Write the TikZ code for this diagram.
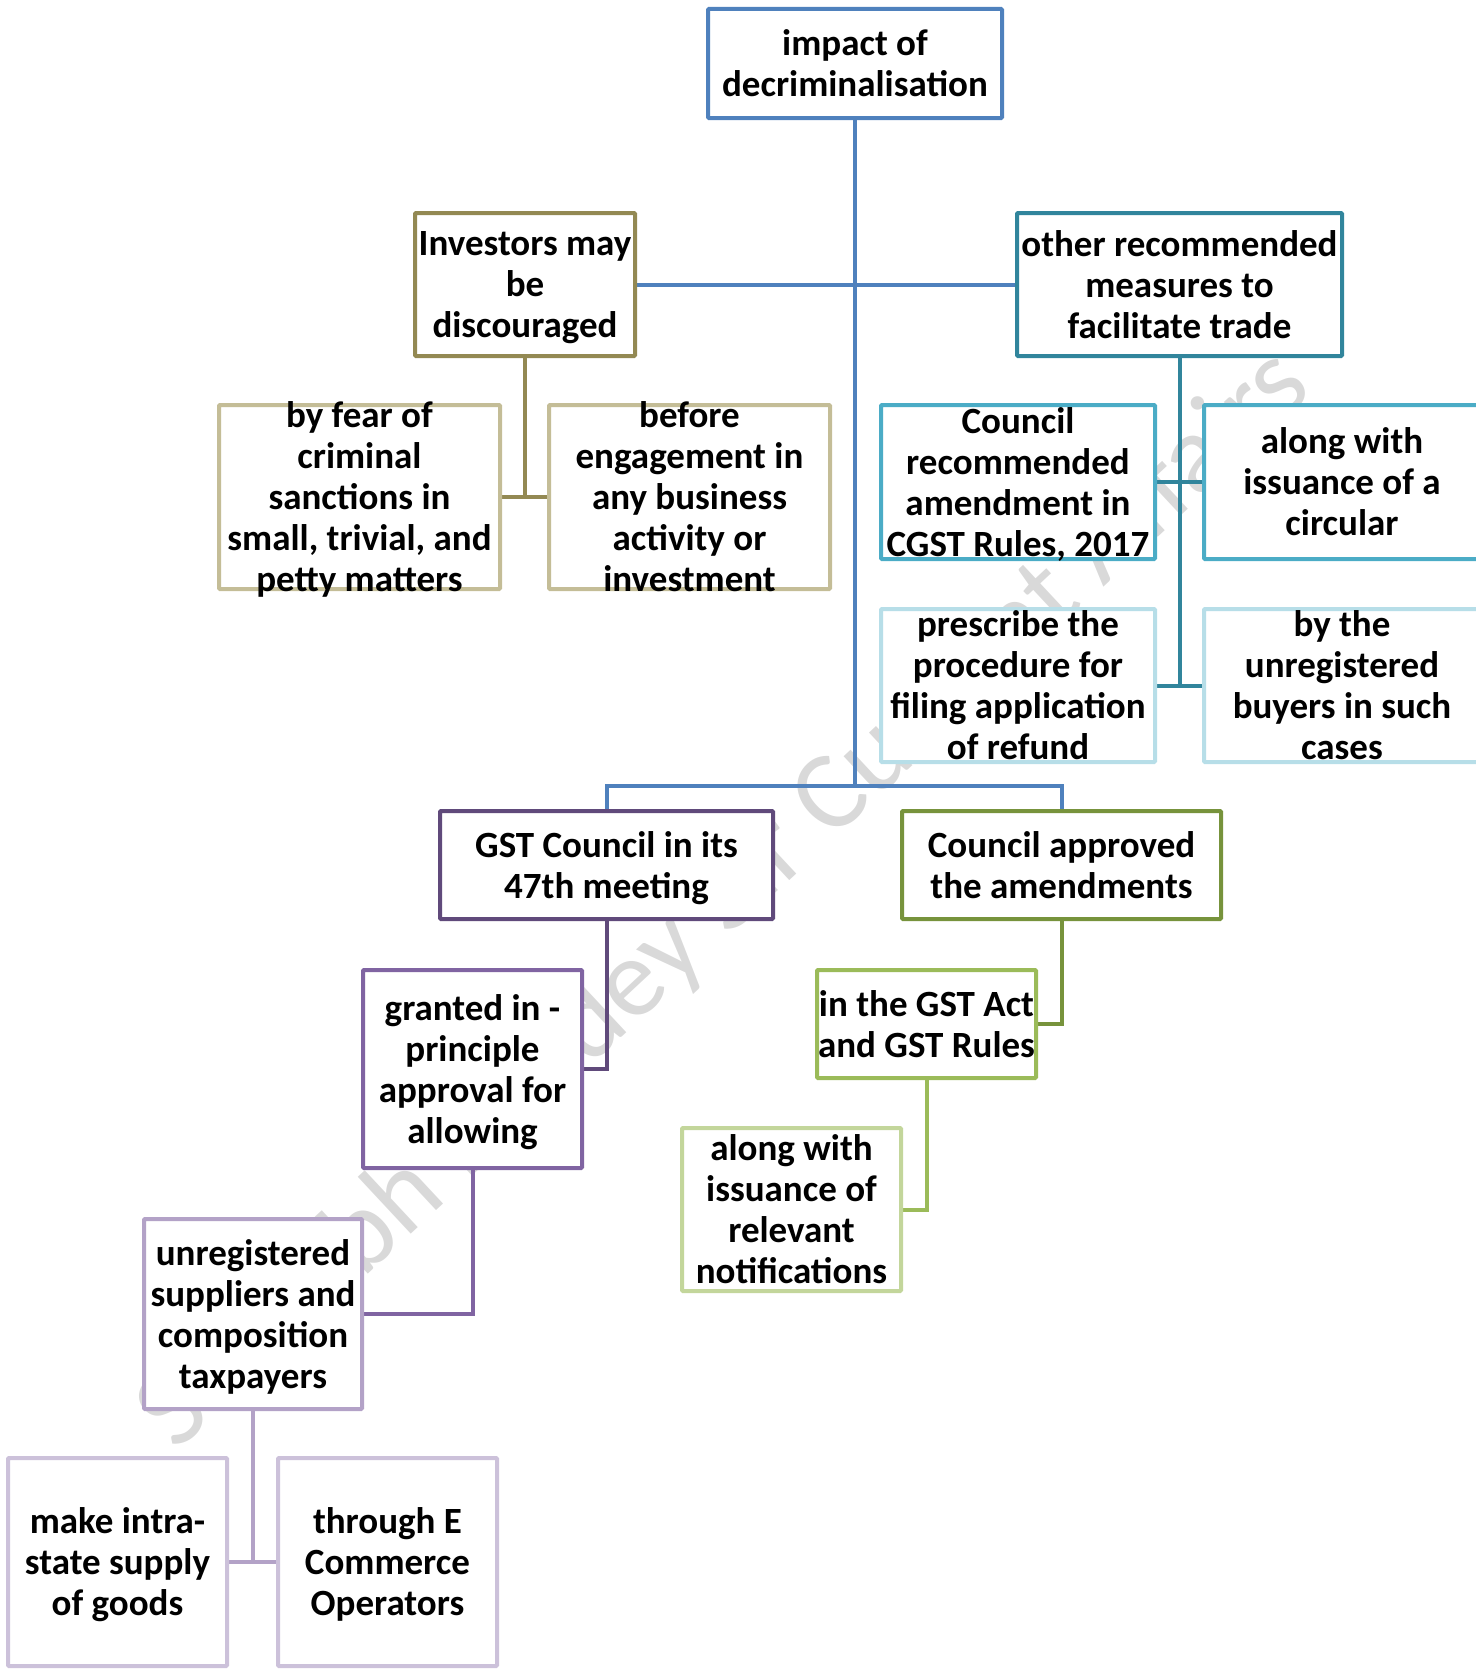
\documentclass[tikz,border=0pt]{standalone}
\usepackage{fontspec}
\setmainfont{Carlito}
\usetikzlibrary{backgrounds}
\definecolor{cblue}{HTML}{4F81BD}
\definecolor{colive}{HTML}{938953}
\definecolor{colivel}{HTML}{C4BD97}
\definecolor{cteal}{HTML}{31859C}
\definecolor{ctealm}{HTML}{4BACC6}
\definecolor{ctealll}{HTML}{B7DEE8}
\definecolor{cpurd}{HTML}{604A7B}
\definecolor{cpurm}{HTML}{8064A2}
\definecolor{cpurl}{HTML}{B3A2C7}
\definecolor{cpurll}{HTML}{CCC1DA}
\definecolor{cgrnd}{HTML}{77933C}
\definecolor{cgrnm}{HTML}{9BBB59}
\definecolor{cgrnl}{HTML}{C3D69B}
\tikzset{
  bx/.style={draw=#1, line width=4pt, fill=white, inner sep=0pt, rounded corners=1pt},
  tx/.style={align=center, inner sep=0pt, yshift=-6pt, font=\bfseries\fontsize{37}{41}\selectfont,
    execute at begin node=\strut, execute at end node=\strut},
  ln/.style={draw=#1, line width=4pt},
  wmark/.style={rotate=43, inner sep=0pt, text=black!15, font=\fontsize{112}{112}\selectfont}
}
\newcommand\boxnode[7]{%
  \node[bx=#6, minimum width=#4pt, minimum height=#5pt] (#1) at (#2,#3) {};
  \node[tx] (#1t) at (#1.center) {#7};
}
\begin{document}
\begin{tikzpicture}[x=1pt,y=-1pt]
\useasboundingbox (0,0) rectangle (1475,1670);
\boxnode{root}{855}{63.5}{294}{109}{cblue}{impact of\\decriminalisation}
\boxnode{inv}{525}{284.5}{220}{143}{colive}{Investors may\\be\\discouraged}
\boxnode{oth}{1179.5}{284.5}{325}{143}{cteal}{other recommended\\measures to\\facilitate trade}
\boxnode{fear}{359.5}{497}{281}{184}{colivel}{by fear of\\criminal\\sanctions in\\small, trivial, and\\petty matters}
\boxnode{before}{689.5}{497}{281}{184}{colivel}{before\\engagement in\\any business\\activity or\\investment}
\boxnode{crec}{1018}{482}{274}{154}{ctealm}{Council\\recommended\\amendment in\\CGST Rules, 2017}
\boxnode{circ}{1342}{482}{276}{154}{ctealm}{along with\\issuance of a\\circular}
\boxnode{presc}{1018}{685.5}{274}{153}{ctealll}{prescribe the\\procedure for\\filing application\\of refund}
\boxnode{bythe}{1342}{685.5}{276}{153}{ctealll}{by the\\unregistered\\buyers in such\\cases}
\boxnode{gst}{606.5}{865}{333}{108}{cpurd}{GST Council in its\\47th meeting}
\boxnode{cappr}{1061.5}{865}{319}{108}{cgrnd}{Council approved\\the amendments}
\boxnode{grant}{472.5}{1069}{219}{198}{cpurm}{granted in -\\principle\\approval for\\allowing}
\boxnode{act}{926.5}{1024}{219}{108}{cgrnm}{in the GST Act\\and GST Rules}
\boxnode{notif}{791.5}{1209.5}{219}{163}{cgrnl}{along with\\issuance of\\relevant\\notifications}
\boxnode{unreg}{253}{1314}{218}{190}{cpurl}{unregistered\\suppliers and\\composition\\taxpayers}
\boxnode{make}{117.5}{1562}{219}{208}{cpurll}{make intra-\\state supply\\of goods}
\boxnode{thru}{387.5}{1562}{219}{208}{cpurll}{through E\\Commerce\\Operators}
\begin{scope}[on background layer]
  \node[wmark] (wm) at (725,900) {Saurabh Pandey Sir Current Affairs};
  \coordinate (j) at (855,786);
  \draw[ln=cblue] (root.south) -- (j);
  \draw[ln=cblue] (inv.east) -- (oth.west);
  \draw[ln=cblue] (gst.north) |- (j) -| (cappr.north);
  \draw[ln=colive] (inv.south) -- (inv.south |- fear.east);
  \draw[ln=colive] (fear.east) -- (before.west);
  \draw[ln=cteal] (oth.south) -- (oth.south |- presc.east);
  \draw[ln=cteal] (crec.east) -- (circ.west);
  \draw[ln=cteal] (presc.east) -- (bythe.west);
  \draw[ln=cpurd] (gst.south) |- (grant.east);
  \draw[ln=cpurm] (grant.south) |- (unreg.east);
  \draw[ln=cpurl] (unreg.south) -- (unreg.south |- make.east);
  \draw[ln=cpurl] (make.east) -- (thru.west);
  \draw[ln=cgrnd] (cappr.south) |- (act.east);
  \draw[ln=cgrnm] (act.south) |- (notif.east);
\end{scope}
\end{tikzpicture}
\end{document}
